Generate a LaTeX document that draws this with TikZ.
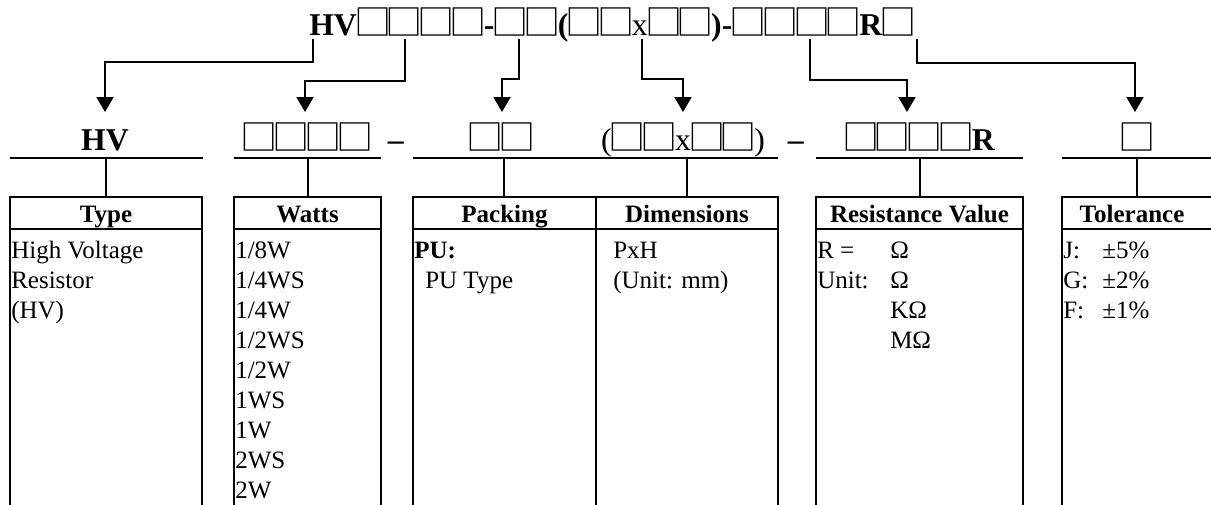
\documentclass[tikz,border=0pt]{standalone}
\usepackage{fontspec}
\usepackage{graphicx}
\setmainfont{Liberation Serif}
\newfontfamily\cjk{Noto Sans CJK SC}
\usetikzlibrary{arrows.meta}
\newcommand\SQ{\makebox[1em][c]{\raisebox{-0.5pt}{\scalebox{1.17}[1.12]{\cjk\symbol{"25A1}}}}}
\newcommand\codefont{\fontsize{23.8pt}{28pt}\selectfont}
\newcommand\cellfont{\fontsize{18.75pt}{22pt}\selectfont}
\tikzset{
  ln/.style={line width=1.5pt, line cap=butt, line join=miter},
  arr/.style={ln, -{Triangle[width=12.75pt,length=11.25pt]}},
  code/.style={font=\codefont, inner sep=0pt, anchor=base},
  cell/.style={font=\cellfont, inner sep=0pt, anchor=base west},
  hdr/.style={font=\cellfont\bfseries, inner sep=0pt, anchor=base},
}
\begin{document}
\begin{tikzpicture}[x=0.75pt,y=-0.75pt]
\useasboundingbox (0,0) rectangle (1211,504);
% top code
\node[code, anchor=base west] (code) at (309,35) {\textbf{HV}\SQ\SQ\SQ\SQ\textbf{-}\SQ\SQ\textbf{(}\SQ\SQ x\SQ\SQ\textbf{)}\textbf{-}\SQ\SQ\SQ\SQ\textbf{R}\SQ};
% start and end coordinates of connectors
\foreach \i/\sx/\my/\tx in {1/313/62/105, 2/405/81/305, 3/519/79/502, 4/642/79/683, 5/810/80/907, 6/917/63/1135}{
  \coordinate (s\i) at (\sx,39);
  \coordinate (m\i) at (\tx,\my);
  \coordinate (t\i) at (\tx,112);
  \draw[arr] (s\i) |- (m\i) -- (t\i);
}
% second row labels
\node[code] (l1) at (105,150) {\textbf{HV}};
\node[code] (l2) at (307,150) {\SQ\SQ\SQ\SQ};
\node[code] (l3) at (396,150) {\textbf{–}};
\node[code] (l4) at (501,150) {\SQ\SQ};
\node[code] (l5) at (683,150) {(\SQ\SQ x\SQ\SQ)};
\node[code] (l6) at (796,150) {\textbf{–}};
\node[code] (l7) at (920,150) {\SQ\SQ\SQ\SQ\textbf{R}};
\node[code] (l8) at (1137,150) {\SQ};
% underlines
\draw[ln] (10,158) -- (203,158);
\draw[ln] (234,158) -- (381,158);
\draw[ln] (413,158) -- (778,158);
\draw[ln] (816,158) -- (1023,158);
\draw[ln] (1062,158) -- (1211,158);
% stubs
\foreach \x in {106,308,504,687,920,1137}{
  \coordinate (u\x) at (\x,158);
  \coordinate (v\x) at (\x,197);
  \draw[ln] (u\x) -- (v\x);
}
% tables
\draw[ln] (10,505) -- (10,197) -- (202,197) -- (202,505);
\draw[ln] (10,229) -- (202,229);
\draw[ln] (234,505) -- (234,197) -- (381,197) -- (381,505);
\draw[ln] (234,229) -- (381,229);
\draw[ln] (413,505) -- (413,197) -- (778,197) -- (778,505);
\draw[ln] (596,197) -- (596,505);
\draw[ln] (413,229) -- (778,229);
\draw[ln] (816,505) -- (816,197) -- (1023,197) -- (1023,505);
\draw[ln] (816,229) -- (1023,229);
\draw[ln] (1062,505) -- (1062,197) -- (1211,197);
\draw[ln] (1062,229) -- (1211,229);
% headers
\node[hdr] (h1) at (106,222) {Type};
\node[hdr] (h2) at (307.5,222) {Watts};
\node[hdr] (h3) at (504.5,222) {Packing};
\node[hdr] (h4) at (687,222) {Dimensions};
\node[hdr] (h5) at (919.5,222) {Resistance Value};
\node[hdr] (h6) at (1132,222) {Tolerance};
% Type
\foreach \t [count=\k from 0] in {High Voltage,Resistor,(HV)}
  \node[cell] (ty\k) at (11,258+30*\k) {\t};
% Watts
\foreach \t [count=\k from 0] in {1/8W,1/4WS,1/4W,1/2WS,1/2W,1WS,1W,2WS,2W}
  \node[cell] (w\k) at (235,258+30*\k) {\t};
% Packing / Dimensions
\node[cell] (p0) at (414,258) {\textbf{PU:}};
\node[cell] (p1) at (425,288) {PU Type};
\node[cell] (d0) at (613,258) {PxH};
\node[cell] (d1) at (613,288) {(Unit: mm)};
% Resistance
\node[cell] (r0) at (817,258) {R =};
\node[cell] (r1) at (817,288) {Unit:};
\foreach \t [count=\k from 0] in {Ω,Ω,KΩ,MΩ}
  \node[cell] (ro\k) at (890,258+30*\k) {\t};
% Tolerance
\foreach \a/\b [count=\k from 0] in {J:/±5\%,G:/±2\%,F:/±1\%}{
  \node[cell] (ta\k) at (1063,258+30*\k) {\a};
  \node[cell] (tb\k) at (1102,258+30*\k) {\b};
}
\end{tikzpicture}
\end{document}
